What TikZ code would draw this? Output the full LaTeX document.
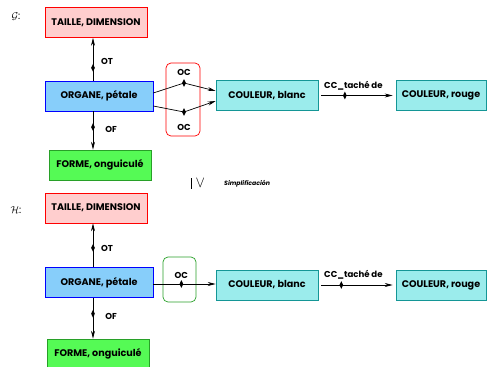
\documentclass[tikz,border=0pt]{standalone}
\usepackage{fontspec}
\setmainfont{Poppins}
\usetikzlibrary{positioning}
\usetikzlibrary{arrows.meta}
\usetikzlibrary{shapes.geometric}

\definecolor{rosepale}{RGB}{255,206,206}
\definecolor{bleuciel}{RGB}{135,206,250}
\definecolor{vertvif}{RGB}{85,250,85}
\definecolor{vertfonce}{RGB}{40,160,40}
\definecolor{cyanpale}{RGB}{155,236,236}
\definecolor{cyanfonce}{RGB}{20,150,150}

\tikzset{
  boite/.style={draw, rectangle, line width=0.6pt, minimum height=30pt,
    inner sep=1pt, font=\fontsize{9.6}{10}\selectfont\bfseries},
  taillebox/.style={boite, fill=rosepale, draw=red, minimum width=102pt},
  organebox/.style={boite, fill=bleuciel, draw=blue, minimum width=108pt},
  formebox/.style={boite, fill=vertvif, draw=vertfonce, minimum width=102pt},
  couleurbox/.style={boite, fill=cyanpale, draw=cyanfonce, minimum width=102pt},
  rougebox/.style={couleurbox, minimum width=90pt},
  fleche/.style={line width=0.7pt, -{Stealth[length=8pt,width=4pt]}},
  losange/.style={diamond, fill=black, inner sep=0pt, minimum width=4pt, minimum height=8pt},
  etiq/.style={font=\fontsize{8.6}{9}\selectfont\bfseries, inner sep=1pt},
  groupe/.style={rectangle, rounded corners=5pt, line width=0.7pt}
}

\begin{document}
\begin{tikzpicture}[x=1pt,y=-1pt]
		\useasboundingbox (0,0) rectangle (488,367);

		% First graph G
		\node at (16,17) {$\mathcal{G}$:};
		\node[taillebox] (g-taille) at (96,22.5) {TAILLE, DIMENSION};
		\node[organebox] (g-organe) at (99,96) {ORGANE, pétale};
		\node[formebox] (g-forme) at (100,165) {FORME, onguiculé};
		\node[couleurbox] (g-blanc) at (267,95.5) {COULEUR, blanc};
		\node[rougebox] (g-rouge) at (441,95.5) {COULEUR, rouge};
		\node[groupe, draw=red, minimum width=34pt, minimum height=73pt] (g-groupe) at (183,99.5) {};

		\draw[fleche] ([xshift=-6pt]g-organe.north) -- node[losange, pos=0.3] {} ([xshift=-3pt]g-taille.south);
		\draw[fleche] ([xshift=-6pt]g-organe.south) -- node[losange, pos=0.41] {} ([xshift=-7pt]g-forme.north);
		\node[etiq] at (107,61) {OT};
		\node[etiq] at (111,129) {OF};

		% Two arcs OC through the group
		\coordinate (g-ochaut) at (184,83);
		\coordinate (g-ocbas) at (184,112);
		\draw[fleche] ([yshift=3pt]g-organe.east) -- (g-ochaut) -- ([yshift=4.5pt]g-blanc.west);
		\draw[fleche] ([yshift=-10pt]g-organe.east) -- (g-ocbas) -- ([yshift=-5.5pt]g-blanc.west);
		\node[losange] at (g-ochaut) {};
		\node[losange] at (g-ocbas) {};
		\node[etiq] at (184,72) {OC};
		\node[etiq] at (184,127) {OC};

		\draw[fleche] ([xshift=3pt]g-blanc.east) -- node[losange, pos=0.33] {} node[etiq, above=4pt, pos=0.45] {CC\_taché de} ([xshift=-3pt]g-rouge.west);

		% Simplification
		\node at (198,183) {\rule[-1pt]{0.8pt}{11pt}\hspace{4pt}\scalebox{1.4}[1.6]{$\vee$}};
		\node[etiq, anchor=west, font=\fontsize{6.2}{7}\selectfont\bfseries\itshape] at (223,184) {Simplificación};

		% Second graph H
		\node at (16,210) {$\mathcal{H}$:};
		\node[taillebox] (h-taille) at (96,208) {TAILLE, DIMENSION};
		\node[organebox] (h-organe) at (99,282.5) {ORGANE, pétale};
		\node[formebox] (h-forme) at (98,354) {FORME, onguiculé};
		\node[couleurbox] (h-blanc) at (267,285) {COULEUR, blanc};
		\node[rougebox] (h-rouge) at (441,285) {COULEUR, rouge};
		\node[groupe, draw=vertfonce, minimum width=33pt, minimum height=45pt] (h-groupe) at (179.5,279.5) {};

		\draw[fleche] ([xshift=-6pt]h-organe.north) -- node[losange, pos=0.44] {} ([xshift=-3pt]h-taille.south);
		\draw[fleche] ([xshift=-6pt]h-organe.south) -- node[losange, pos=0.39] {} ([xshift=-5pt]h-forme.north);
		\node[etiq] at (107,248) {OT};
		\node[etiq] at (111,316) {OF};

		\draw[fleche] ([yshift=-1.5pt]h-organe.east) -- node[losange, pos=0.45] {} node[etiq, above=4pt, pos=0.45] {OC} ([yshift=1pt]h-blanc.west);
		\draw[fleche] ([xshift=3pt]h-blanc.east) -- node[losange, pos=0.28] {} node[etiq, above=4pt, pos=0.45] {CC\_taché de} ([xshift=-3pt]h-rouge.west);
	\end{tikzpicture}
\end{document}
